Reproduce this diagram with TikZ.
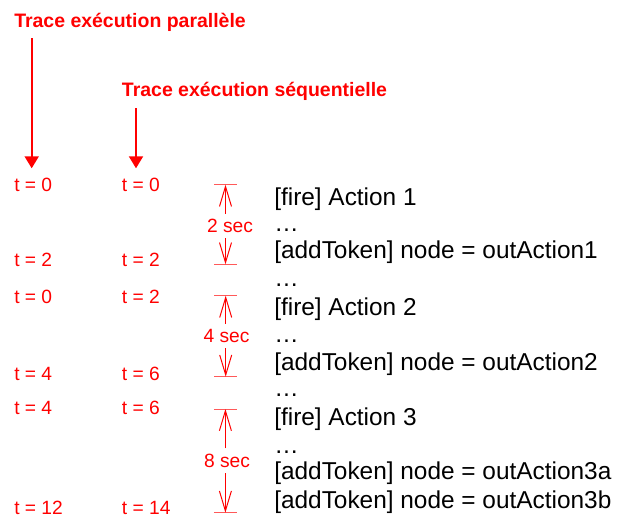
\documentclass[tikz,border=0pt]{standalone}
\usepackage{fontspec}
\setmainfont{Liberation Sans}
\usetikzlibrary{arrows.meta}
\definecolor{tred}{RGB}{255,0,0}
\begin{document}
\begin{tikzpicture}[x=0.75pt,y=-0.75pt,
 blk/.style={anchor=base west, inner sep=0pt, font=\fontsize{18.3}{20}\selectfont},
 rlab/.style={anchor=base west, inner sep=0pt, text=tred, font=\fontsize{14.4}{16}\selectfont},
 titlelab/.style={anchor=base west, inner sep=0pt, text=tred, font=\fontsize{14.6}{16}\selectfont\bfseries},
 tarrow/.style={draw=tred, line width=1.5pt, -{Triangle[length=9pt,width=10.5pt]}},
 dimline/.style={draw=tred, line width=0.75pt, -{Straight Barb[length=15pt,width=9pt]}},
 dimbar/.style={draw=tred!65, line width=0.75pt},
 dlab/.style={anchor=base, inner sep=0pt, outer sep=4.2pt, text=tred, font=\fontsize{14.4}{16}\selectfont},
]
\useasboundingbox (0,0) rectangle (617,521);

% titles and arrows
\node[titlelab] (title1) at (14,27.3) {Trace exécution parallèle};
\node[titlelab] (title2) at (121.7,96.7) {Trace exécution séquentielle};
\coordinate (a1s) at (31.7,38.3);
\coordinate (a1e) at (31.7,168.3);
\coordinate (a2s) at (136,108.3);
\coordinate (a2e) at (136,168.3);
\draw[tarrow] (a1s) -- (a1e);
\draw[tarrow] (a2s) -- (a2e);

% time labels
\node[rlab] (p1) at (14,191.7) {t = 0};
\node[rlab] (s1) at (121.7,191.7) {t = 0};
\node[rlab] (p2) at (14,266.7) {t = 2};
\node[rlab] (s2) at (121.7,266.7) {t = 2};
\node[rlab] (p3) at (14,303.3) {t = 0};
\node[rlab] (s3) at (121.7,303.3) {t = 2};
\node[rlab] (p4) at (14,380) {t = 4};
\node[rlab] (s4) at (121.7,380) {t = 6};
\node[rlab] (p5) at (14,414) {t = 4};
\node[rlab] (s5) at (121.7,414) {t = 6};
\node[rlab] (p6) at (14,514) {t = 12};
\node[rlab] (s6) at (121.7,514) {t = 14};

% trace lines
\node[blk] (l1) at (274,205.7) {[fire] Action 1};
\node[blk] (l2) at (274,231.7) {…};
\node[blk] (l3) at (274,258.3) {[addToken] node = outAction1};
\node[blk] (l4) at (274,286.7) {…};
\node[blk] (l5) at (274,315) {[fire] Action 2};
\node[blk] (l6) at (274,342.7) {…};
\node[blk] (l7) at (274,370) {[addToken] node = outAction2};
\node[blk] (l8) at (274,396.7) {…};
\node[blk] (l9) at (274,425) {[fire] Action 3};
\node[blk] (l10) at (274,453) {…};
\node[blk] (l11) at (274,479.3) {[addToken] node = outAction3a};
\node[blk] (l12) at (274,508.3) {[addToken] node = outAction3b};

% duration markers
\coordinate (t1) at (225.5,184.7);
\coordinate (b1) at (225.5,264.3);
\node[dlab] (d1) at (230,232.7) {2 sec};
\draw[dimbar] ([xshift=-8.6pt]t1) -- ([xshift=8.6pt]t1);
\draw[dimbar] ([xshift=-8.6pt]b1) -- ([xshift=8.6pt]b1);
\draw[dimline] (d1.north -| t1) -- (t1);
\draw[dimline] (d1.south -| b1) -- (b1);

\coordinate (t2) at (225.7,295.7);
\coordinate (b2) at (225.7,376.7);
\node[dlab] (d2) at (226.5,342.7) {4 sec};
\draw[dimbar] ([xshift=-8.6pt]t2) -- ([xshift=8.6pt]t2);
\draw[dimbar] ([xshift=-8.6pt]b2) -- ([xshift=8.6pt]b2);
\draw[dimline] (d2.north -| t2) -- (t2);
\draw[dimline] (d2.south -| b2) -- (b2);

\coordinate (t3) at (225.4,409);
\coordinate (b3) at (225.4,512.7);
\node[dlab] (d3) at (227,467.3) {8 sec};
\draw[dimbar] ([xshift=-8.6pt]t3) -- ([xshift=8.6pt]t3);
\draw[dimbar] ([xshift=-8.6pt]b3) -- ([xshift=8.6pt]b3);
\draw[dimline] (d3.north -| t3) -- (t3);
\draw[dimline] (d3.south -| b3) -- (b3);
\end{tikzpicture}
\end{document}
